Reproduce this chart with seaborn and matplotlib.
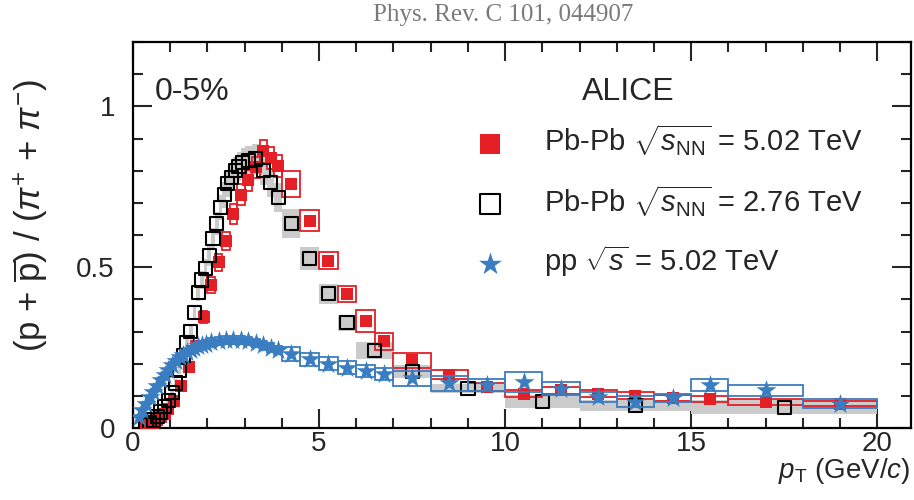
import numpy as np
import seaborn as sns
import matplotlib.pyplot as plt

# Pb-Pb 5.02 TeV, 0-5%
red_pt = [0.35, 0.45, 0.55, 0.65, 0.75, 0.85, 0.95,
          1.1, 1.3, 1.5, 1.7, 1.9, 2.1, 2.3, 2.5, 2.7, 2.9, 3.1, 3.3, 3.5, 3.7, 3.9,
          4.25, 4.75, 5.25, 5.75, 6.25, 6.75,
          7.5, 8.5, 9.5, 10.5, 11.5, 12.5, 13.5, 14.5, 15.5, 17, 19]
red_ratio = [0.007, 0.011, 0.016, 0.024, 0.033, 0.045, 0.06,
             0.085, 0.13, 0.19, 0.255, 0.345, 0.445, 0.515, 0.58, 0.665, 0.725, 0.77, 0.81, 0.86, 0.84, 0.815,
             0.758, 0.645, 0.52, 0.417, 0.333, 0.27,
             0.21, 0.166, 0.128, 0.107, 0.118, 0.107, 0.101, 0.093, 0.089, 0.081, 0.076]
red_width = [0.1, 0.1, 0.1, 0.1, 0.1, 0.1, 0.1,
             0.2, 0.2, 0.2, 0.2, 0.2, 0.2, 0.2, 0.2, 0.2, 0.2, 0.2, 0.2, 0.2, 0.2, 0.2,
             0.5, 0.5, 0.5, 0.5, 0.5, 0.5,
             1, 1, 1, 1, 1, 1, 1, 1, 1, 2, 2]
red_sys = [0.002, 0.002, 0.003, 0.003, 0.004, 0.005, 0.006,
           0.008, 0.011, 0.014, 0.017, 0.02, 0.024, 0.026, 0.028, 0.03, 0.032, 0.033, 0.034, 0.036, 0.035, 0.034,
           0.041, 0.032, 0.027, 0.025, 0.035, 0.026,
           0.023, 0.014, 0.012, 0.012, 0.011, 0.01, 0.01, 0.009, 0.009, 0.008, 0.008]

# Pb-Pb 2.76 TeV, 0-5%
black_pt = [0.35, 0.45, 0.55, 0.65, 0.75, 0.85, 0.95, 1.05, 1.15, 1.25,
            1.35, 1.45, 1.55, 1.65, 1.75, 1.85, 1.95, 2.05, 2.15, 2.25,
            2.35, 2.45, 2.55, 2.65, 2.75, 2.85, 2.95,
            3.1, 3.3, 3.5, 3.7, 3.9,
            4.25, 4.75, 5.25, 5.75,
            6.5, 7.5, 9, 11, 13.5, 17.5]
black_ratio = [0.01, 0.016, 0.025, 0.036, 0.05, 0.066, 0.085, 0.11, 0.14, 0.18,
               0.225, 0.265, 0.3, 0.36, 0.42, 0.46, 0.495, 0.535, 0.588, 0.635,
               0.685, 0.725, 0.76, 0.78, 0.8, 0.812, 0.825,
               0.831, 0.836, 0.8, 0.763, 0.717,
               0.636, 0.526, 0.417, 0.327,
               0.24, 0.175, 0.123, 0.082, 0.071, 0.064]
black_width = [0.1, 0.1, 0.1, 0.1, 0.1, 0.1, 0.1, 0.1, 0.1, 0.1,
               0.1, 0.1, 0.1, 0.1, 0.1, 0.1, 0.1, 0.1, 0.1, 0.1,
               0.1, 0.1, 0.1, 0.1, 0.1, 0.1, 0.1,
               0.2, 0.2, 0.2, 0.2, 0.2,
               0.5, 0.5, 0.5, 0.5,
               1, 1, 2, 2, 3, 5]
black_sys = [0.002, 0.003, 0.004, 0.005, 0.006, 0.007, 0.008, 0.009, 0.011, 0.013,
             0.016, 0.018, 0.02, 0.023, 0.026, 0.028, 0.03, 0.032, 0.034, 0.036,
             0.038, 0.04, 0.042, 0.043, 0.044, 0.045, 0.046,
             0.046, 0.047, 0.046, 0.045, 0.045,
             0.045, 0.036, 0.03, 0.025,
             0.026, 0.02, 0.015, 0.02, 0.017, 0.022]

# pp 5.02 TeV
blue_pt = [0.15, 0.25, 0.35, 0.45, 0.55, 0.65, 0.75, 0.85, 0.95, 1.05,
           1.15, 1.25, 1.35, 1.45, 1.55, 1.65, 1.75, 1.85, 1.95,
           2.1, 2.3, 2.5, 2.7, 2.9, 3.1, 3.3, 3.5, 3.7, 3.9,
           4.25, 4.75, 5.25, 5.75, 6.25, 6.75,
           7.5, 8.5, 9.5, 10.5, 11.5, 12.5, 13.5, 14.5, 15.5, 17, 19]
blue_ratio = [0.035, 0.055, 0.075, 0.095, 0.113, 0.13, 0.15, 0.165, 0.18, 0.195,
              0.208, 0.22, 0.228, 0.236, 0.243, 0.249, 0.254, 0.258, 0.262,
              0.266, 0.27, 0.273, 0.274, 0.273, 0.27, 0.264, 0.257, 0.25, 0.242,
              0.23, 0.213, 0.2, 0.187, 0.177, 0.168,
              0.155, 0.139, 0.133, 0.143, 0.122, 0.097, 0.082, 0.093, 0.133, 0.117, 0.076]
blue_width = [0.1, 0.1, 0.1, 0.1, 0.1, 0.1, 0.1, 0.1, 0.1, 0.1,
              0.1, 0.1, 0.1, 0.1, 0.1, 0.1, 0.1, 0.1, 0.1,
              0.2, 0.2, 0.2, 0.2, 0.2, 0.2, 0.2, 0.2, 0.2, 0.2,
              0.5, 0.5, 0.5, 0.5, 0.5, 0.5,
              1, 1, 1, 1, 1, 1, 1, 1, 1, 2, 2]
blue_sys = [0.004, 0.005, 0.006, 0.007, 0.008, 0.008, 0.009, 0.009, 0.01, 0.01,
            0.01, 0.011, 0.011, 0.011, 0.012, 0.012, 0.012, 0.012, 0.012,
            0.013, 0.013, 0.013, 0.013, 0.013, 0.013, 0.013, 0.013, 0.013, 0.013,
            0.022, 0.021, 0.02, 0.02, 0.02, 0.02,
            0.023, 0.023, 0.018, 0.031, 0.02, 0.015, 0.018, 0.013, 0.018, 0.018, 0.014]

red = '#e41f26'
blue = '#3a7dc0'
grey = '#cbcbcb'

sns.set_style('ticks')
plt.rcParams['font.family'] = ['Liberation Sans', 'DejaVu Sans']
plt.rcParams['mathtext.fontset'] = 'custom'
plt.rcParams['mathtext.rm'] = 'Liberation Sans'
plt.rcParams['mathtext.it'] = 'Liberation Sans:italic'
plt.rcParams['mathtext.bf'] = 'Liberation Sans:bold'

fig = plt.figure(figsize=(9.14, 5.0), dpi=100)
ax = fig.add_axes([0.1455, 0.144, 0.851, 0.772])

# systematic boxes
def sys_boxes(pt, ratio, width, sys, **kw):
    ratio = np.array(ratio)
    sys = np.array(sys)
    ax.bar(pt, 2 * sys, bottom=ratio - sys, width=width, **kw)

sys_boxes(black_pt, black_ratio, black_width, black_sys, color=grey, linewidth=0, zorder=1)
sys_boxes(red_pt, red_ratio, red_width, red_sys, fill=False, edgecolor=red, linewidth=1.3, zorder=2)

sns.scatterplot(x=red_pt, y=red_ratio, marker='s', s=65, color=red, linewidth=0,
                label=r'Pb-Pb $\sqrt{s_{\rm NN}}$ = 5.02 TeV', ax=ax, zorder=3)
sns.scatterplot(x=black_pt, y=black_ratio, marker='s', s=90, color='black',
                label=r'Pb-Pb $\sqrt{s_{\rm NN}}$ = 2.76 TeV', ax=ax, zorder=4)
ax.collections[-1].set_facecolor('none')
ax.collections[-1].set_edgecolor('black')
ax.collections[-1].set_linewidth(1.5)

sys_boxes(blue_pt, blue_ratio, blue_width, blue_sys, fill=False, edgecolor=blue, linewidth=1.3, zorder=5)
sns.scatterplot(x=blue_pt, y=blue_ratio, marker='*', s=230, color=blue, linewidth=0,
                label=r'pp $\sqrt{s}$ = 5.02 TeV', ax=ax, zorder=6)

ax.set_xlim(0, 20.9)
ax.set_ylim(0, 1.2)
ax.set_xticks([0, 5, 10, 15, 20])
ax.set_xticks(np.arange(0, 21, 1), minor=True)
ax.set_yticks([0, 0.5, 1])
ax.set_yticklabels(['0', '0.5', '1'])
ax.set_yticks(np.arange(0, 1.21, 0.1), minor=True)
ax.tick_params(which='both', direction='in', top=True, right=True, labelsize=20, width=1.5)
ax.tick_params(which='major', length=14)
ax.tick_params(which='minor', length=7)
ax.tick_params(axis='y', pad=13)
ax.tick_params(axis='x', pad=2)
for sp in ax.spines.values():
    sp.set_linewidth(1.6)
    sp.set_color('black')

ax.set_ylabel(r'(p + $\overline{\rm p}$) / ($\pi^{+}$ + $\pi^{-}$)', fontsize=25)
ax.yaxis.set_label_coords(-0.107, 0.55)
ax.set_xlabel(r'$p_{\rm T}$ (GeV/$c$)', fontsize=20, loc='right')
ax.xaxis.set_label_coords(1.0, -0.072)

ax.text(0.028, 0.87, '0-5%', transform=ax.transAxes, fontsize=23, va='center')
ax.text(0.637, 0.87, 'ALICE', transform=ax.transAxes, fontsize=23, va='center', ha='center')

handles, labels = ax.get_legend_handles_labels()
leg = ax.legend(handles, labels, loc='upper left', bbox_to_anchor=(0.425, 0.822), frameon=False,
                fontsize=21, labelspacing=0.85, handlelength=1.0, handletextpad=1.35,
                borderaxespad=0, borderpad=0.4)
lh = leg.legend_handles
lh[0].set_sizes([200])
lh[1].set_sizes([200])
lh[1].set_facecolor('none')
lh[1].set_edgecolor('black')
lh[2].set_sizes([300])

fig.text(0.55, 0.97, 'Phys. Rev. C 101, 044907', family='Liberation Serif', fontsize=18,
         color='#7a7a7a', ha='center', va='center')

fig.savefig('out.png', dpi=100)
